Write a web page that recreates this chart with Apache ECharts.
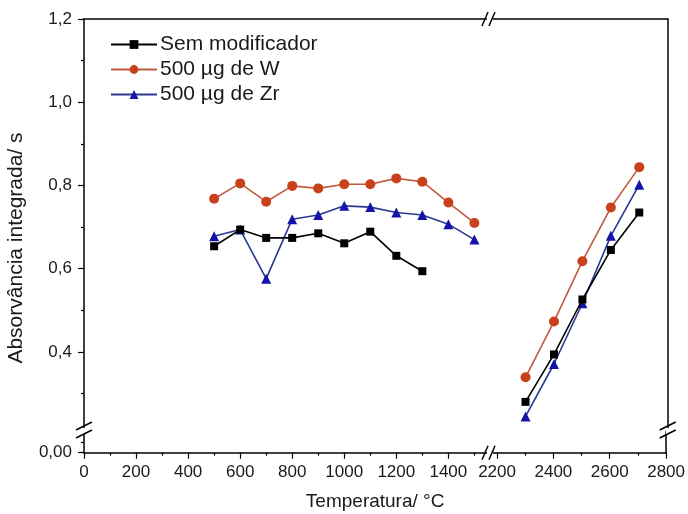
<!DOCTYPE html>
<html>
<head>
<meta charset="utf-8">
<script src="https://cdn.jsdelivr.net/npm/echarts@6/dist/echarts.min.js"></script>
<style>
  html, body { margin: 0; padding: 0; background: #fff; }
  #chart { width: 688px; height: 514px; }
</style>
</head>
<body>
<div id="chart"></div>
<script>
// Integrated absorbance vs. pyrolysis/atomisation temperature
const seriesNames = ['Sem modificador', '500 \u00b5g de W', '500 \u00b5g de Zr'];

// Temperatures (°C), lower range (pyrolysis) and upper range (atomisation)
const tempsLow = [500, 600, 700, 800, 900, 1000, 1100, 1200, 1300, 1400, 1500];
const tempsHigh = [2300, 2400, 2500, 2600, 2700];

// Integrated absorbance (s)
const semLow = [0.654, 0.694, 0.674, 0.674, 0.685, 0.661, 0.689, 0.631, 0.594];
const wLow = [0.768, 0.805, 0.761, 0.799, 0.793, 0.803, 0.803, 0.817, 0.809, 0.759, 0.710];
const zrLow = [0.678, 0.694, 0.576, 0.719, 0.729, 0.751, 0.748, 0.735, 0.729, 0.707, 0.670];
const semHigh = [0.280, 0.394, 0.526, 0.645, 0.735];
const wHigh = [0.339, 0.473, 0.618, 0.747, 0.844];
const zrHigh = [0.245, 0.371, 0.517, 0.679, 0.802];

// Axis ticks
const xMajorLow = [0, 200, 400, 600, 800, 1000, 1200, 1400];
const xMinorLow = [100, 300, 500, 700, 900, 1100, 1300, 1500];
const xMajorHigh = [2200, 2400, 2600, 2800];
const xMinorHigh = [2300, 2500, 2700];
const yMajor = [0.4, 0.6, 0.8, 1.0, 1.2];
const yMinor = [0.3, 0.5, 0.7, 0.9, 1.1];
const yMajorBottom = [0];
const yMinorBottom = [0.025];

// Broken-axis ranges
const xRangeLow = [0, 1560];
const xRangeHigh = [2175, 2800];
const yRangeTop = [0.21, 1.2];
const yRangeBottom = [0, 0.05];

// Layout (px)
const L = 84, T = 19, XB = 490, R = 667.7, YB = 431, B = 452.7;

const FONT = '"Liberation Sans", Arial, sans-serif';
const INK = '#1a1a1a';
const lineStyleAxis = { color: '#000', width: 1.5 };
const comma = (v, d) => v.toFixed(d).replace('.', ',');

function pair(a, b) { return a.map((v, i) => [a[i], b[i]]); }

const styles = [
  { color: '#000000', line: '#000000', symbol: 'rect', size: 8 },
  { color: '#c8401c', line: '#c35a40', symbol: 'circle', size: 10 },
  { color: '#1414a8', line: '#2a3890', symbol: 'triangle', size: 10 }
];
const lowData = [semLow, wLow, zrLow];
const highData = [semHigh, wHigh, zrHigh];

const series = [];
seriesNames.forEach((name, i) => {
  const st = styles[i];
  const common = {
    name, type: 'line', symbol: st.symbol, symbolSize: st.size,
    itemStyle: { color: st.color },
    lineStyle: { color: st.line, width: 1.6 },
    animation: false, z: 3 + (2 - i)
  };
  series.push(Object.assign({}, common, {
    xAxisIndex: 0, yAxisIndex: 0,
    data: pair(tempsLow.slice(0, lowData[i].length), lowData[i])
  }));
  series.push(Object.assign({}, common, {
    xAxisIndex: 1, yAxisIndex: 2,
    data: pair(tempsHigh, highData[i])
  }));
});

const hidden = { show: false };
function frameX(grid, range, pos) {
  return { gridIndex: grid, type: 'value', position: pos, min: range[0], max: range[1],
    axisLine: { show: true, lineStyle: lineStyleAxis, onZero: false },
    axisTick: hidden, axisLabel: hidden, splitLine: hidden };
}
function tickX(grid, range, vals, len, labels) {
  return { gridIndex: grid, type: 'value', position: 'bottom', min: range[0], max: range[1],
    axisLine: { show: labels, lineStyle: lineStyleAxis, onZero: false },
    axisTick: { show: true, inside: false, length: len, customValues: vals, lineStyle: { color: '#000', width: 1.2 } },
    axisLabel: labels ? { show: true, customValues: vals, margin: 11, fontSize: 17, fontFamily: FONT, color: INK,
      formatter: v => String(v) } : hidden,
    splitLine: hidden };
}
function tickY(grid, range, vals, len, labelFmt, lineShown, pos) {
  return { gridIndex: grid, type: 'value', position: pos || 'left', min: range[0], max: range[1],
    axisLine: { show: lineShown, lineStyle: lineStyleAxis, onZero: false },
    axisTick: vals ? { show: true, inside: false, length: len, customValues: vals, lineStyle: { color: '#000', width: 1.2 } } : hidden,
    axisLabel: labelFmt ? { show: true, customValues: vals, margin: 12, fontSize: 17, fontFamily: FONT, color: INK, formatter: labelFmt } : hidden,
    splitLine: hidden };
}

// Break marks "//" on the four axis lines
function breakMarks() {
  const els = [];
  const seg = (x1, y1, x2, y2) => ({ type: 'line', shape: { x1, y1, x2, y2 }, style: { stroke: '#000', lineWidth: 1.5 }, z: 100 });
  const gapRect = (x, y, w, h) => ({ type: 'rect', shape: { x, y, width: w, height: h }, style: { fill: '#fff' }, z: 99 });
  [T, B].forEach(y => {
    els.push(gapRect(XB - 3, y - 2, 6, 4));
    els.push(seg(XB - 8, y + 7, XB - 2, y - 7));
    els.push(seg(XB - 1, y + 7, XB + 5, y - 7));
  });
  [L, R].forEach(x => {
    els.push(gapRect(x - 2, YB - 3, 4, 6));
    els.push(seg(x - 8, YB - 1, x + 8, YB - 9));
    els.push(seg(x - 8, YB + 7, x + 8, YB - 1));
  });
  return els;
}

const option = {
  backgroundColor: '#fff',
  animation: false,
  textStyle: { fontFamily: FONT },
  grid: [
    { left: L, top: T, width: XB - L, height: YB - T },
    { left: XB, top: T, width: R - XB, height: YB - T },
    { left: L, top: YB, width: XB - L, height: B - YB },
    { left: XB, top: YB, width: R - XB, height: B - YB }
  ],
  legend: {
    left: 105, top: 29, orient: 'vertical', itemGap: 4,
    itemWidth: 46, itemHeight: 11,
    textStyle: { fontSize: 21, fontFamily: FONT, color: INK, padding: [0, 0, 0, -2] },
    data: seriesNames
  },
  xAxis: [
    frameX(0, xRangeLow, 'top'),
    frameX(1, xRangeHigh, 'top'),
    tickX(2, xRangeLow, xMajorLow, 6, true),
    tickX(2, xRangeLow, xMinorLow, 3, false),
    tickX(3, xRangeHigh, xMajorHigh, 6, true),
    tickX(3, xRangeHigh, xMinorHigh, 3, false)
  ],
  yAxis: [
    tickY(0, yRangeTop, yMajor, 6, v => comma(v, 1), true),
    tickY(0, yRangeTop, yMinor, 3, null, false),
    tickY(1, yRangeTop, null, 0, null, true, 'right'),
    tickY(2, yRangeBottom, yMajorBottom, 6, v => comma(v, 2), true),
    tickY(2, yRangeBottom, yMinorBottom, 3, null, false),
    tickY(3, yRangeBottom, null, 0, null, true, 'right')
  ],
  series,
  graphic: breakMarks().concat([
    { type: 'text', left: (L + R) / 2 - 70, top: 492,
      style: { text: 'Temperatura/ \u00b0C', font: '19px ' + FONT, fill: INK } },
    { type: 'text', x: 6, y: 248, rotation: Math.PI / 2,
      style: { text: 'Absorv\u00e2ncia integrada/ s', font: '21px ' + FONT, fill: INK, align: 'center', verticalAlign: 'top' } }
  ])
};

const chart = echarts.init(document.getElementById('chart'), null, { renderer: 'canvas' });
chart.setOption(option);
</script>
</body>
</html>
